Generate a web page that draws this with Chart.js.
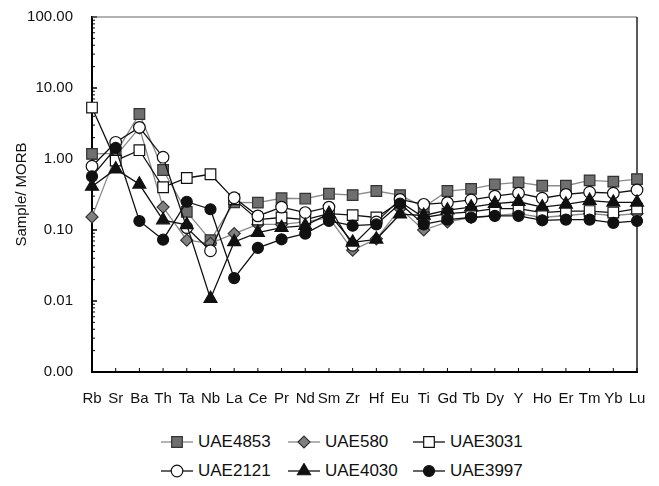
<!DOCTYPE html>
<html>
<head>
<meta charset="utf-8">
<script src="https://cdn.jsdelivr.net/npm/chart.js@4/dist/chart.umd.min.js"></script>
<style>
  body { margin: 0; background: #fff; }
  #wrap { position: relative; width: 659px; height: 486px; font-family: "Liberation Sans", Arial, sans-serif; overflow: hidden; }
  #chart { position: absolute; left: 0; top: -3px; }
  .item { position: absolute; display: flex; align-items: center; font-size: 17px; color: #111; white-space: nowrap; }
  .item canvas { margin-right: 5px; }
</style>
</head>
<body>
<div id="wrap">
  <canvas id="chart" width="659" height="420"></canvas>
  <div id="legend"></div>
</div>
<script>
const elements = ["Rb", "Sr", "Ba", "Th", "Ta", "Nb", "La", "Ce", "Pr", "Nd", "Sm", "Zr",
    "Hf", "Eu", "Ti", "Gd", "Tb", "Dy", "Y", "Ho", "Er", "Tm", "Yb", "Lu"];

const uae4853 = [1.18, 1.2, 4.3, 0.70, 0.18, 0.072, 0.245, 0.243, 0.28, 0.276, 0.324, 0.31,
    0.354, 0.31, 0.21, 0.354, 0.38, 0.44, 0.47, 0.42, 0.42, 0.50, 0.48, 0.52];
const uae580 = [0.153, 1.1, 2.75, 0.21, 0.072, 0.065, 0.089, 0.12, 0.12, 0.13, 0.15, 0.052,
    0.075, 0.20, 0.10, 0.13, 0.15, 0.16, 0.17, 0.15, 0.16, 0.17, 0.16, 0.17];
const uae3031 = [5.3, 0.95, 1.33, 0.40, 0.54, 0.61, 0.27, 0.14, 0.15, 0.14, 0.17, 0.162,
    0.15, 0.25, 0.15, 0.17, 0.18, 0.20, 0.20, 0.176, 0.185, 0.185, 0.176, 0.20];
const uae2121 = [0.79, 1.72, 2.79, 1.06, 0.108, 0.051, 0.285, 0.158, 0.21, 0.176, 0.21, 0.061,
    0.13, 0.27, 0.23, 0.243, 0.265, 0.30, 0.33, 0.28, 0.318, 0.34, 0.33, 0.366];
const uae4030 = [0.41, 0.72, 0.44, 0.138, 0.118, 0.0108, 0.068, 0.092, 0.108, 0.115, 0.17, 0.067,
    0.074, 0.167, 0.16, 0.19, 0.21, 0.235, 0.25, 0.21, 0.23, 0.26, 0.245, 0.245];
const uae3997 = [0.57, 1.43, 0.134, 0.073, 0.25, 0.196, 0.021, 0.056, 0.074, 0.089, 0.134, 0.115,
    0.12, 0.235, 0.12, 0.14, 0.15, 0.158, 0.158, 0.137, 0.14, 0.14, 0.126, 0.134];

const yTicks = [0.001, 0.01, 0.1, 1, 10, 100];

const series = [
    { label: "UAE4853", data: uae4853, line: "#8a8a8a", fill: "#6f6f6f", edge: "#333", style: "rect", r: 7.5 },
    { label: "UAE580", data: uae580, line: "#8a8a8a", fill: "#808080", edge: "#333", style: "rectRot", r: 6 },
    { label: "UAE3031", data: uae3031, line: "#111", fill: "#fff", edge: "#111", style: "rect", r: 7.5 },
    { label: "UAE2121", data: uae2121, line: "#111", fill: "#fff", edge: "#111", style: "circle", r: 5.8 },
    { label: "UAE4030", data: uae4030, line: "#111", fill: "#111", edge: "#111", style: "triangle", r: 7.5 },
    { label: "UAE3997", data: uae3997, line: "#111", fill: "#111", edge: "#111", style: "circle", r: 5.5 },
];

const FONT = "'Liberation Sans', Arial, sans-serif";

// inward ticks + top/right frame
const frameTicks = {
    id: "frameTicks",
    beforeDatasetsDraw(chart) {
        const { ctx, chartArea: a, scales } = chart;
        ctx.save();
        ctx.strokeStyle = "#999";
        ctx.lineWidth = 1.5;
        ctx.beginPath();
        ctx.moveTo(a.left, a.top);
        ctx.lineTo(a.right, a.top);
        ctx.stroke();
        ctx.strokeStyle = "#222";
        ctx.beginPath();
        ctx.moveTo(a.right, a.top);
        ctx.lineTo(a.right, a.bottom);
        ctx.stroke();

        ctx.strokeStyle = "#000";
        ctx.lineWidth = 1;
        ctx.beginPath();
        elements.forEach((e, i) => {
            const x = scales.x.getPixelForValue(i);
            ctx.moveTo(x, a.bottom);
            ctx.lineTo(x, a.bottom - 4);
        });
        for (let d = 0.001; d < 100; d *= 10) {
            for (let m = 1; m <= 10; m++) {
                const y = scales.y.getPixelForValue(d * m);
                const len = (m === 1 || m === 10) ? 5 : 3;
                ctx.moveTo(a.left, y);
                ctx.lineTo(a.left + len, y);
            }
        }
        ctx.stroke();
        ctx.restore();
    }
};

new Chart(document.getElementById("chart"), {
    type: "line",
    data: {
        labels: elements,
        datasets: series.map((s, i) => ({
            label: s.label,
            data: s.data,
            order: series.length - i,
            borderColor: s.line,
            borderWidth: 1.3,
            pointStyle: s.style,
            pointRadius: s.r,
            pointBackgroundColor: s.fill,
            pointBorderColor: s.edge,
            pointBorderWidth: 1.2,
            tension: 0,
        }))
    },
    options: {
        responsive: false,
        animation: false,
        layout: { padding: { top: 6, right: 22, left: 0, bottom: 0 } },
        plugins: { legend: { display: false }, tooltip: { enabled: false } },
        scales: {
            x: {
                offset: false,
                grid: { display: false },
                border: { display: true, color: "#000", width: 2 },
                ticks: { color: "#111", padding: 10, maxRotation: 0, autoSkip: false, font: { family: FONT, size: 15 } },
                afterFit: (s) => { s.height = 45; }
            },
            y: {
                type: "logarithmic",
                min: 0.001,
                max: 100,
                grid: { display: false },
                border: { display: true, color: "#000", width: 2 },
                afterBuildTicks: (s) => { s.ticks = yTicks.map((v) => ({ value: v, major: true })); },
                ticks: {
                    color: "#111",
                    padding: 11,
                    autoSkip: false,
                    font: { family: FONT, size: 15 },
                    callback: (v) => Number(v).toFixed(2)
                },
                title: {
                    display: true,
                    text: "Sample/ MORB",
                    color: "#111",
                    font: { family: FONT, size: 15 },
                    padding: { top: 13, bottom: 0 }
                },
                afterFit: (s) => { s.width = 92; }
            }
        }
    },
    plugins: [frameTicks]
});

// legend: line + marker icons with text, 3 columns x 2 rows
function drawIcon(s) {
    const c = document.createElement("canvas");
    c.width = 32; c.height = 16;
    const ctx = c.getContext("2d");
    ctx.strokeStyle = s.line;
    ctx.lineWidth = 1.3;
    ctx.beginPath(); ctx.moveTo(0, 8); ctx.lineTo(32, 8); ctx.stroke();
    ctx.fillStyle = s.fill;
    ctx.strokeStyle = s.edge;
    ctx.lineWidth = 1.2;
    ctx.beginPath();
    const x = 16, y = 8;
    if (s.style === "rect") {
        const h = s.r * Math.SQRT1_2;
        ctx.rect(x - h, y - h, 2 * h, 2 * h);
    } else if (s.style === "rectRot") {
        ctx.moveTo(x - s.r, y); ctx.lineTo(x, y - s.r); ctx.lineTo(x + s.r, y); ctx.lineTo(x, y + s.r); ctx.closePath();
    } else if (s.style === "triangle") {
        const r = s.r;
        ctx.moveTo(x, y - r);
        ctx.lineTo(x + r * Math.sin(Math.PI / 3), y + r / 2);
        ctx.lineTo(x - r * Math.sin(Math.PI / 3), y + r / 2);
        ctx.closePath();
    } else {
        ctx.arc(x, y, s.r, 0, Math.PI * 2);
    }
    ctx.fill();
    ctx.stroke();
    return c;
}

const legendCols = [161, 288, 413];
const legendRows = [442, 471];
const legend = document.getElementById("legend");
series.forEach((s, i) => {
    const item = document.createElement("div");
    item.className = "item";
    item.style.left = legendCols[i % 3] + "px";
    item.style.top = (legendRows[Math.floor(i / 3)] - 10) + "px";
    item.style.height = "20px";
    item.appendChild(drawIcon(s));
    const t = document.createElement("span");
    t.textContent = s.label;
    item.appendChild(t);
    legend.appendChild(item);
});
</script>
</body>
</html>
